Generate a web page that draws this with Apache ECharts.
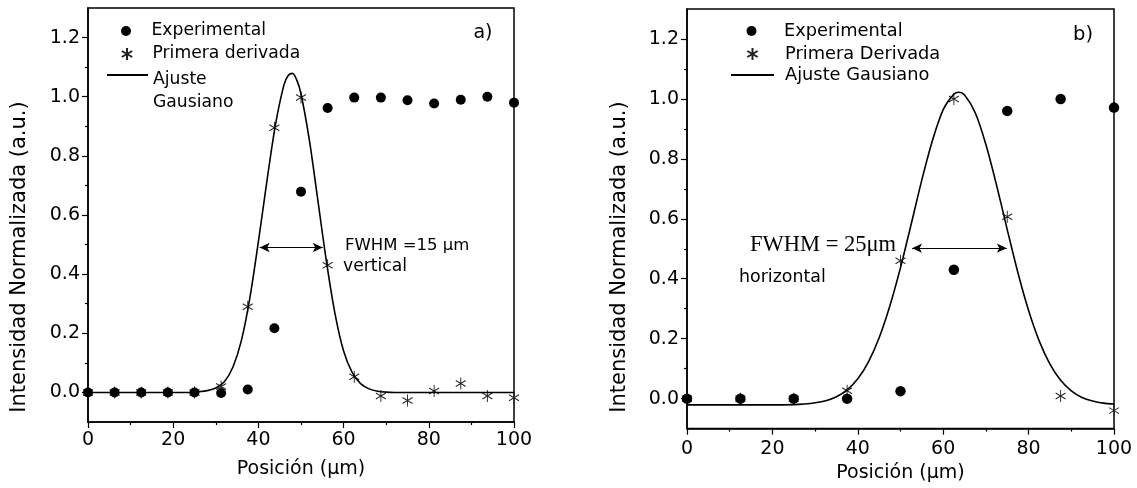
<!DOCTYPE html>
<html><head><meta charset="utf-8">
<script src="https://cdn.jsdelivr.net/npm/echarts@6/dist/echarts.min.js"></script>
<style>html,body{margin:0;padding:0;background:#fff}#c{width:1137px;height:488px}</style>
</head><body><div id="c"></div>
<script>
// ---- Panel a) data ----
const xA = [0,6.25,12.5,18.75,25,31.25,37.5,43.75,50,56.25,62.5,68.75,75,81.25,87.5,93.75,100];
const expA = [0,0,0,0,0,-0.002,0.01,0.217,0.679,0.962,0.997,0.997,0.988,0.977,0.99,1.0,0.98];
const derA = [0,0,0,0,0,0.02,0.29,0.895,0.997,0.43,0.053,-0.012,-0.027,0.005,0.03,-0.012,-0.018];
const fitXA = [0,10,20,24,26,28,30,32,34,36,38,40,42,44,46,47,48,49,50,52,54,56,58,60,62,64,66,68,70,72,80,90,100];
const fitA = [0,0,0,0,0.002,0.006,0.015,0.036,0.085,0.175,0.32,0.51,0.715,0.905,1.04,1.072,1.079,1.057,1.01,0.85,0.645,0.44,0.265,0.14,0.068,0.03,0.012,0.004,0.001,0,0,0,0];
const fwhmA = [40.3, 55.1, 0.49];

// ---- Panel b) data ----
const xB = [0,12.5,25,37.5,50,62.5,75,87.5,100];
const expB = [0,0,0,0,0.025,0.43,0.96,1.0,0.971];
const derB = [0,0,0,0.026,0.46,1.0,0.607,0.009,-0.04];
const fitXB = [0,10,20,25,27.5,30,32.5,35,37.5,40,42.5,45,47.5,50,52.5,55,57.5,60,62.5,63.6,65,67.5,70,72.5,75,77.5,80,82.5,85,87.5,90,92.5,95,97.5,100];
const fitB = [-0.021,-0.021,-0.021,-0.02,-0.018,-0.014,-0.007,0.006,0.029,0.066,0.123,0.203,0.309,0.437,0.582,0.73,0.862,0.964,1.016,1.022,1.013,0.954,0.848,0.712,0.564,0.42,0.294,0.192,0.115,0.061,0.026,0.004,-0.008,-0.015,-0.018];
const fwhmB = [52.7, 74.9, 0.502];

// ---- ticks ----
const yTicks = [0,0.2,0.4,0.6,0.8,1.0,1.2];
const yMinor = [0.1,0.3,0.5,0.7,0.9,1.1];

const FONT = 'DejaVu Sans';
const pairs = (xs, ys) => xs.map((x, i) => [x, ys[i]]);
const starPath = 'path://M0,-10L0,10M-8.66,-5L8.66,5M-8.66,5L8.66,-5';

function xAxis(gi, margin, gap) {
  return {
    gridIndex: gi, type: 'value', min: 0, max: 100, interval: 20,
    name: 'Posición (μm)', nameLocation: 'middle', nameGap: gap,
    nameTextStyle: {fontFamily: FONT, fontSize: 19, color: '#000', lineHeight: 20},
    axisLine: {show: true, onZero: false, lineStyle: {color: '#000', width: 1.5}},
    axisTick: {show: true, inside: false, length: 6, lineStyle: {color: '#000', width: 1.2}},
    minorTick: {show: true, splitNumber: 2, length: 3, lineStyle: {color: '#000', width: 1.2}},
    axisLabel: {margin: margin, fontFamily: FONT, fontSize: 19, color: '#000', lineHeight: 19},
    splitLine: {show: false}, minorSplitLine: {show: false}
  };
}
function yAxis(gi) {
  return {
    gridIndex: gi, type: 'value', min: -0.1, max: 1.3, position: 'left',
    axisLine: {show: true, onZero: false, lineStyle: {color: '#000', width: 1.5}},
    axisTick: {show: true, inside: false, length: 6, customValues: yTicks, lineStyle: {color: '#000', width: 1.2}},
    axisLabel: {customValues: yTicks, formatter: v => v.toFixed(1), margin: 8, fontFamily: FONT, fontSize: 19, color: '#000'},
    splitLine: {show: false}
  };
}
function yMinorAxis(gi) {
  return {
    gridIndex: gi, type: 'value', min: -0.1, max: 1.3, position: 'left', offset: 0,
    axisLine: {show: false},
    axisTick: {show: true, inside: false, length: 3, customValues: yMinor, lineStyle: {color: '#000', width: 1.2}},
    axisLabel: {show: false}, splitLine: {show: false}
  };
}
function arrowLine(f) {
  return {
    silent: true, animation: false, symbol: ['arrow', 'arrow'], symbolSize: [7, 10],
    label: {show: false}, emphasis: {disabled: true},
    lineStyle: {color: '#000', width: 1.2, type: 'solid'},
    data: [[{coord: [f[0], f[2]]}, {coord: [f[1], f[2]]}]]
  };
}
function legend(name, left, top, itemHeight, itemWidth, fontSize, extra) {
  return Object.assign({
    data: [name], orient: 'vertical', left: left, top: top, padding: 0,
    selectedMode: false, itemWidth: itemWidth, itemHeight: itemHeight,
    textStyle: {fontFamily: FONT, fontSize: fontSize, color: '#000', lineHeight: 20}
  }, extra || {});
}
const hideSym = {color: 'rgba(0,0,0,0)', borderWidth: 0, opacity: 0};
function txt(x, y, text, font, align) {
  return {type: 'text', x: x, y: y, silent: true,
    style: {text: text, font: font, fill: '#000', textAlign: align || 'left', textVerticalAlign: 'middle'}};
}

const chart = echarts.init(document.getElementById('c'), null, {renderer: 'canvas'});
chart.setOption({
  animation: false,
  backgroundColor: '#fff',
  grid: [
    {left: 88, top: 8, width: 426, height: 414, show: true, borderColor: '#000', borderWidth: 1.5, containLabel: false},
    {left: 687, top: 9, width: 427, height: 423, show: true, borderColor: '#000', borderWidth: 1.5, containLabel: false}
  ],
  xAxis: [xAxis(0, 8.5, 37), xAxis(1, 10.5, 24)],
  yAxis: [yAxis(0), yMinorAxis(0), yAxis(1), yMinorAxis(1)],
  legend: [
    legend('Experimental', 121, 21, 10, 41, 17.2),
    legend('Primera derivada', 120.8, 44, 12, 41, 17.2),
    legend('Ajuste Gausiano', 106, 43.5, 10, 41, 17.2, {
      itemStyle: hideSym,
      formatter: () => '{s| }\n{t|Ajuste}\n{t|Gausiano}',
      textStyle: {fontFamily: FONT, fontSize: 17.2, color: '#000',
        rich: {s: {fontFamily: FONT, fontSize: 17.2, lineHeight: 33},
               t: {fontFamily: FONT, fontSize: 17.2, lineHeight: 23, color: '#000'}}}
    }),
    legend('Experimental', 746.5, 21, 10, 43, 17.8, {
      textStyle: {fontFamily: FONT, fontSize: 17.8, color: '#000', lineHeight: 20, padding: [0, 0, 0, 6]}
    }),
    legend('Primera Derivada', 746.3, 44, 12, 43, 17.8, {
      textStyle: {fontFamily: FONT, fontSize: 17.8, color: '#000', lineHeight: 20, padding: [0, 0, 0, 6]}
    }),
    legend('Ajuste Gausiano', 730, 65, 10, 43, 17.8, {
      itemStyle: hideSym,
      textStyle: {fontFamily: FONT, fontSize: 17.8, color: '#000', lineHeight: 20, padding: [0, 0, 0, 6]}
    })
  ],
  series: [
    {type: 'scatter', name: 'Primera derivada', xAxisIndex: 0, yAxisIndex: 0, data: pairs(xA, derA),
      symbol: starPath, symbolSize: [10, 12], z: 2,
      itemStyle: {color: '#222', borderColor: '#222', borderWidth: 1, opacity: 1}},
    {type: 'line', name: 'Ajuste Gausiano', xAxisIndex: 0, yAxisIndex: 0, data: pairs(fitXA, fitA),
      showSymbol: false, symbol: 'none', smooth: 0.3, z: 3,
      lineStyle: {color: '#000', width: 1.6}, itemStyle: {color: '#000'},
      markLine: arrowLine(fwhmA)},
    {type: 'scatter', name: 'Experimental', xAxisIndex: 0, yAxisIndex: 0, data: pairs(xA, expA),
      symbol: 'circle', symbolSize: 10, z: 4, itemStyle: {color: '#000', opacity: 1}},

    {type: 'scatter', name: 'Primera Derivada', xAxisIndex: 1, yAxisIndex: 2, data: pairs(xB, derB),
      symbol: starPath, symbolSize: [10, 12], z: 2,
      itemStyle: {color: '#222', borderColor: '#222', borderWidth: 1, opacity: 1}},
    {type: 'line', name: 'Ajuste Gausiano', xAxisIndex: 1, yAxisIndex: 2, data: pairs(fitXB, fitB),
      showSymbol: false, symbol: 'none', smooth: 0.3, z: 3,
      lineStyle: {color: '#000', width: 1.6}, itemStyle: {color: '#000'},
      markLine: arrowLine(fwhmB)},
    {type: 'scatter', name: 'Experimental', xAxisIndex: 1, yAxisIndex: 2, data: pairs(xB, expB),
      symbol: 'circle', symbolSize: 10.5, z: 4, itemStyle: {color: '#000', opacity: 1}}
  ],
  graphic: [
    {type: 'text', x: 20, y: 257, rotation: Math.PI / 2, silent: true,
      style: {text: 'Intensidad Normalizada (a.u.)', font: '21px "DejaVu Sans"', fill: '#000', textAlign: 'center', textVerticalAlign: 'middle'}},
    {type: 'text', x: 620, y: 257, rotation: Math.PI / 2, silent: true,
      style: {text: 'Intensidad Normalizada (a.u.)', font: '21px "DejaVu Sans"', fill: '#000', textAlign: 'center', textVerticalAlign: 'middle'}},
    txt(483, 33, 'a)', '19px "DejaVu Sans"', 'center'),
    txt(1083, 35, 'b)', '19.5px "DejaVu Sans"', 'center'),
    txt(345, 246, 'FWHM =15 μm', '16.5px "DejaVu Sans"'),
    txt(343, 267, 'vertical', '17.2px "DejaVu Sans"'),
    txt(750, 245, 'FWHM = 25μm', '22.5px "Liberation Serif"'),
    txt(739, 277, 'horizontal', '17.4px "DejaVu Sans"')
  ]
});
</script>
</body></html>
